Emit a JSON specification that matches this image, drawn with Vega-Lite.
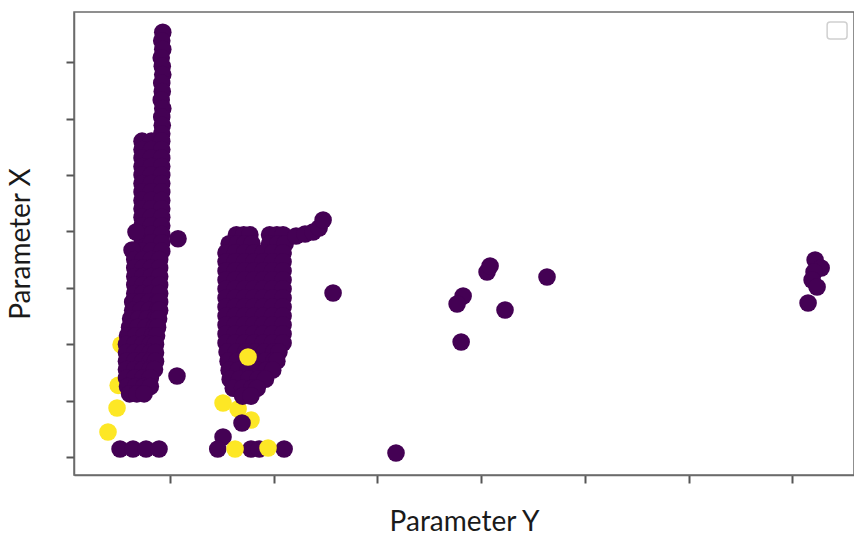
{
  "$schema": "https://vega.github.io/schema/vega-lite/v6.json",
  "width": 780,
  "height": 463,
  "autosize": {"type": "none"},
  "padding": {"left": 74, "top": 12, "right": 0, "bottom": 72},
  "background": "white",
  "config": {
    "view": {"stroke": "#6b6b6b", "strokeWidth": 1.5},
    "axis": {
      "labels": false,
      "grid": false,
      "tickSize": 8,
      "tickWidth": 2,
      "tickColor": "#555555",
      "domainColor": "#6b6b6b",
      "domainWidth": 1.5,
      "titleFont": "Lato",
      "titleFontSize": 28,
      "titleFontWeight": "normal",
      "titleColor": "#1a1a1a"
    }
  },
  "layer": [
    {
      "data": {
        "values": [
          {"u":0.528,"v":1.99,"k":1},{"u":0.50,"v":1.27,"k":1},{"u":1.511,"v":0.957,"k":1},{"u":1.656,"v":0.851,"k":1},{"u":1.781,"v":0.656,"k":1},

          {"u":0.93,"v":7.53,"k":0},{"u":0.92,"v":7.38,"k":0},{"u":0.93,"v":7.23,"k":0},{"u":0.915,"v":7.08,"k":0},{"u":0.925,"v":6.93,"k":0},{"u":0.93,"v":6.78,"k":0},{"u":0.92,"v":6.63,"k":0},{"u":0.925,"v":6.48,"k":0},{"u":0.915,"v":6.33,"k":0},{"u":0.93,"v":6.18,"k":0},{"u":0.92,"v":6.03,"k":0},{"u":0.925,"v":5.88,"k":0},{"u":0.92,"v":5.73,"k":0},

          {"u":0.73,"v":5.60,"k":0},{"u":0.82,"v":5.60,"k":0},{"u":0.92,"v":5.60,"k":0},
          {"u":0.73,"v":5.45,"k":0},{"u":0.82,"v":5.45,"k":0},{"u":0.92,"v":5.45,"k":0},
          {"u":0.73,"v":5.30,"k":0},{"u":0.82,"v":5.30,"k":0},{"u":0.92,"v":5.30,"k":0},
          {"u":0.73,"v":5.15,"k":0},{"u":0.82,"v":5.15,"k":0},{"u":0.92,"v":5.15,"k":0},
          {"u":0.73,"v":5.00,"k":0},{"u":0.82,"v":5.00,"k":0},{"u":0.92,"v":5.00,"k":0},
          {"u":0.73,"v":4.85,"k":0},{"u":0.82,"v":4.85,"k":0},{"u":0.92,"v":4.85,"k":0},
          {"u":0.73,"v":4.70,"k":0},{"u":0.82,"v":4.70,"k":0},{"u":0.92,"v":4.70,"k":0},
          {"u":0.73,"v":4.55,"k":0},{"u":0.82,"v":4.55,"k":0},{"u":0.92,"v":4.55,"k":0},
          {"u":0.73,"v":4.40,"k":0},{"u":0.82,"v":4.40,"k":0},{"u":0.92,"v":4.40,"k":0},
          {"u":0.73,"v":4.25,"k":0},{"u":0.82,"v":4.25,"k":0},{"u":0.92,"v":4.25,"k":0},
          {"u":0.73,"v":4.10,"k":0},{"u":0.82,"v":4.10,"k":0},{"u":0.92,"v":4.10,"k":0},
          {"u":0.73,"v":3.95,"k":0},{"u":0.82,"v":3.95,"k":0},{"u":0.92,"v":3.95,"k":0},
          {"u":0.73,"v":3.80,"k":0},{"u":0.82,"v":3.80,"k":0},{"u":0.92,"v":3.80,"k":0},
          {"u":0.73,"v":3.65,"k":0},{"u":0.82,"v":3.65,"k":0},{"u":0.92,"v":3.65,"k":0},
          {"u":0.672,"v":3.99,"k":0},{"u":0.634,"v":3.67,"k":0},{"u":1.077,"v":3.87,"k":0},

          {"u":0.66,"v":3.50,"k":0},{"u":0.74,"v":3.50,"k":0},{"u":0.82,"v":3.50,"k":0},{"u":0.90,"v":3.50,"k":0},
          {"u":0.66,"v":3.35,"k":0},{"u":0.74,"v":3.35,"k":0},{"u":0.82,"v":3.35,"k":0},{"u":0.90,"v":3.35,"k":0},
          {"u":0.66,"v":3.20,"k":0},{"u":0.74,"v":3.20,"k":0},{"u":0.82,"v":3.20,"k":0},{"u":0.90,"v":3.20,"k":0},
          {"u":0.66,"v":3.05,"k":0},{"u":0.74,"v":3.05,"k":0},{"u":0.82,"v":3.05,"k":0},{"u":0.90,"v":3.05,"k":0},
          {"u":0.66,"v":2.90,"k":0},{"u":0.74,"v":2.90,"k":0},{"u":0.82,"v":2.90,"k":0},{"u":0.90,"v":2.90,"k":0},
          {"u":0.64,"v":2.75,"k":0},{"u":0.72,"v":2.75,"k":0},{"u":0.80,"v":2.75,"k":0},{"u":0.88,"v":2.75,"k":0},{"u":0.90,"v":2.75,"k":0},
          {"u":0.64,"v":2.60,"k":0},{"u":0.72,"v":2.60,"k":0},{"u":0.80,"v":2.60,"k":0},{"u":0.88,"v":2.60,"k":0},{"u":0.90,"v":2.60,"k":0},
          {"u":0.62,"v":2.45,"k":0},{"u":0.70,"v":2.45,"k":0},{"u":0.78,"v":2.45,"k":0},{"u":0.86,"v":2.45,"k":0},{"u":0.89,"v":2.45,"k":0},
          {"u":0.61,"v":2.30,"k":0},{"u":0.69,"v":2.30,"k":0},{"u":0.77,"v":2.30,"k":0},{"u":0.85,"v":2.30,"k":0},{"u":0.88,"v":2.30,"k":0},
          {"u":0.59,"v":2.15,"k":0},{"u":0.67,"v":2.15,"k":0},{"u":0.75,"v":2.15,"k":0},{"u":0.83,"v":2.15,"k":0},{"u":0.87,"v":2.15,"k":0},
          {"u":0.58,"v":2.00,"k":0},{"u":0.66,"v":2.00,"k":0},{"u":0.74,"v":2.00,"k":0},{"u":0.81,"v":2.00,"k":0},{"u":0.86,"v":2.00,"k":0},
          {"u":0.58,"v":1.85,"k":0},{"u":0.66,"v":1.85,"k":0},{"u":0.74,"v":1.85,"k":0},{"u":0.81,"v":1.85,"k":0},{"u":0.86,"v":1.85,"k":0},
          {"u":0.58,"v":1.70,"k":0},{"u":0.66,"v":1.70,"k":0},{"u":0.74,"v":1.70,"k":0},{"u":0.81,"v":1.70,"k":0},{"u":0.86,"v":1.70,"k":0},
          {"u":0.58,"v":1.55,"k":0},{"u":0.66,"v":1.55,"k":0},{"u":0.74,"v":1.55,"k":0},{"u":0.81,"v":1.55,"k":0},{"u":0.85,"v":1.55,"k":0},
          {"u":0.58,"v":1.40,"k":0},{"u":0.66,"v":1.40,"k":0},{"u":0.74,"v":1.40,"k":0},{"u":0.81,"v":1.40,"k":0},
          {"u":0.59,"v":1.25,"k":0},{"u":0.67,"v":1.25,"k":0},{"u":0.75,"v":1.25,"k":0},{"u":0.81,"v":1.25,"k":0},
          {"u":0.61,"v":1.12,"k":0},{"u":0.68,"v":1.12,"k":0},{"u":0.75,"v":1.12,"k":0},
          {"u":0.518,"v":0.142,"k":0},{"u":0.643,"v":0.142,"k":0},{"u":0.769,"v":0.142,"k":0},{"u":0.894,"v":0.142,"k":0},
          {"u":1.067,"v":1.436,"k":0},

          {"u":1.64,"v":3.94,"k":0},{"u":1.71,"v":3.94,"k":0},{"u":1.77,"v":3.94,"k":0},{"u":1.96,"v":3.94,"k":0},{"u":2.03,"v":3.94,"k":0},{"u":2.09,"v":3.94,"k":0},
          {"u":1.57,"v":3.78,"k":0},{"u":1.65,"v":3.78,"k":0},{"u":1.72,"v":3.78,"k":0},{"u":1.79,"v":3.78,"k":0},{"u":1.96,"v":3.78,"k":0},{"u":2.04,"v":3.78,"k":0},{"u":2.11,"v":3.78,"k":0},
          {"u":1.54,"v":3.62,"k":0},{"u":1.63,"v":3.62,"k":0},{"u":1.72,"v":3.62,"k":0},{"u":1.81,"v":3.62,"k":0},{"u":1.90,"v":3.62,"k":0},{"u":1.99,"v":3.62,"k":0},{"u":2.09,"v":3.62,"k":0},
          {"u":1.54,"v":3.46,"k":0},{"u":1.63,"v":3.46,"k":0},{"u":1.72,"v":3.46,"k":0},{"u":1.81,"v":3.46,"k":0},{"u":1.90,"v":3.46,"k":0},{"u":1.99,"v":3.46,"k":0},{"u":2.09,"v":3.46,"k":0},
          {"u":1.54,"v":3.30,"k":0},{"u":1.63,"v":3.30,"k":0},{"u":1.72,"v":3.30,"k":0},{"u":1.81,"v":3.30,"k":0},{"u":1.90,"v":3.30,"k":0},{"u":1.99,"v":3.30,"k":0},{"u":2.09,"v":3.30,"k":0},
          {"u":1.54,"v":3.14,"k":0},{"u":1.63,"v":3.14,"k":0},{"u":1.72,"v":3.14,"k":0},{"u":1.81,"v":3.14,"k":0},{"u":1.90,"v":3.14,"k":0},{"u":1.99,"v":3.14,"k":0},{"u":2.09,"v":3.14,"k":0},
          {"u":1.54,"v":2.98,"k":0},{"u":1.63,"v":2.98,"k":0},{"u":1.72,"v":2.98,"k":0},{"u":1.81,"v":2.98,"k":0},{"u":1.90,"v":2.98,"k":0},{"u":1.99,"v":2.98,"k":0},{"u":2.09,"v":2.98,"k":0},
          {"u":1.54,"v":2.82,"k":0},{"u":1.63,"v":2.82,"k":0},{"u":1.72,"v":2.82,"k":0},{"u":1.81,"v":2.82,"k":0},{"u":1.90,"v":2.82,"k":0},{"u":1.99,"v":2.82,"k":0},{"u":2.09,"v":2.82,"k":0},
          {"u":1.54,"v":2.66,"k":0},{"u":1.63,"v":2.66,"k":0},{"u":1.72,"v":2.66,"k":0},{"u":1.81,"v":2.66,"k":0},{"u":1.90,"v":2.66,"k":0},{"u":1.99,"v":2.66,"k":0},{"u":2.09,"v":2.66,"k":0},
          {"u":1.54,"v":2.50,"k":0},{"u":1.63,"v":2.50,"k":0},{"u":1.72,"v":2.50,"k":0},{"u":1.81,"v":2.50,"k":0},{"u":1.90,"v":2.50,"k":0},{"u":1.99,"v":2.50,"k":0},{"u":2.09,"v":2.50,"k":0},
          {"u":1.54,"v":2.34,"k":0},{"u":1.63,"v":2.34,"k":0},{"u":1.72,"v":2.34,"k":0},{"u":1.81,"v":2.34,"k":0},{"u":1.90,"v":2.34,"k":0},{"u":1.99,"v":2.34,"k":0},{"u":2.09,"v":2.34,"k":0},
          {"u":1.54,"v":2.18,"k":0},{"u":1.63,"v":2.18,"k":0},{"u":1.72,"v":2.18,"k":0},{"u":1.81,"v":2.18,"k":0},{"u":1.90,"v":2.18,"k":0},{"u":1.99,"v":2.18,"k":0},{"u":2.09,"v":2.18,"k":0},
          {"u":1.54,"v":2.02,"k":0},{"u":1.63,"v":2.02,"k":0},{"u":1.72,"v":2.02,"k":0},{"u":1.81,"v":2.02,"k":0},{"u":1.90,"v":2.02,"k":0},{"u":1.99,"v":2.02,"k":0},{"u":2.09,"v":2.02,"k":0},
          {"u":1.55,"v":1.86,"k":0},{"u":1.64,"v":1.86,"k":0},{"u":1.73,"v":1.86,"k":0},{"u":1.82,"v":1.86,"k":0},{"u":1.91,"v":1.86,"k":0},{"u":2.00,"v":1.86,"k":0},{"u":2.05,"v":1.86,"k":0},
          {"u":1.56,"v":1.70,"k":0},{"u":1.65,"v":1.70,"k":0},{"u":1.74,"v":1.70,"k":0},{"u":1.83,"v":1.70,"k":0},{"u":1.92,"v":1.70,"k":0},{"u":2.00,"v":1.70,"k":0},{"u":2.03,"v":1.70,"k":0},
          {"u":1.57,"v":1.54,"k":0},{"u":1.66,"v":1.54,"k":0},{"u":1.75,"v":1.54,"k":0},{"u":1.84,"v":1.54,"k":0},{"u":1.93,"v":1.54,"k":0},{"u":1.99,"v":1.54,"k":0},
          {"u":1.58,"v":1.38,"k":0},{"u":1.67,"v":1.38,"k":0},{"u":1.76,"v":1.38,"k":0},{"u":1.85,"v":1.38,"k":0},{"u":1.92,"v":1.38,"k":0},
          {"u":1.61,"v":1.22,"k":0},{"u":1.70,"v":1.22,"k":0},{"u":1.79,"v":1.22,"k":0},{"u":1.84,"v":1.22,"k":0},
          {"u":1.70,"v":1.08,"k":0},{"u":1.78,"v":1.08,"k":0},
          {"u":1.511,"v":0.355,"k":0},{"u":1.694,"v":0.603,"k":0},
          {"u":1.46,"v":0.142,"k":0},{"u":1.78,"v":0.142,"k":0},{"u":1.86,"v":0.142,"k":0},{"u":2.10,"v":0.142,"k":0},

          {"u":2.215,"v":3.918,"k":0},{"u":2.302,"v":3.954,"k":0},{"u":2.379,"v":3.989,"k":0},{"u":2.437,"v":4.060,"k":0},{"u":2.476,"v":4.202,"k":0},
          {"u":2.572,"v":2.908,"k":0},{"u":3.179,"v":0.071,"k":0},
          {"u":3.826,"v":2.855,"k":0},{"u":3.768,"v":2.713,"k":0},{"u":3.807,"v":2.039,"k":0},{"u":4.057,"v":3.280,"k":0},{"u":4.086,"v":3.387,"k":0},{"u":4.230,"v":2.606,"k":0},{"u":4.635,"v":3.191,"k":0},
          {"u":7.220,"v":3.493,"k":0},{"u":7.278,"v":3.351,"k":0},{"u":7.210,"v":3.280,"k":0},{"u":7.191,"v":3.138,"k":0},{"u":7.239,"v":3.014,"k":0},{"u":7.152,"v":2.730,"k":0},

          {"u":0.489,"v":0.869,"k":1},{"u":0.402,"v":0.443,"k":1},{"u":1.752,"v":1.773,"k":1},{"u":1.627,"v":0.142,"k":1},{"u":1.945,"v":0.16,"k":1}
        ]
      },
      "mark": {"type": "point", "filled": true, "size": 310, "opacity": 1, "strokeWidth": 0},
      "encoding": {
        "x": {
          "field": "u", "type": "quantitative",
          "scale": {"domain": [0.074, 7.595], "nice": false, "zero": false},
          "axis": {"values": [1, 2, 3, 4, 5, 6, 7], "title": "Parameter Y", "titlePadding": 24}
        },
        "y": {
          "field": "v", "type": "quantitative",
          "scale": {"domain": [-0.319, 7.89], "nice": false, "zero": false},
          "axis": {"values": [0, 1, 2, 3, 4, 5, 6, 7], "title": "Parameter X", "titlePadding": 30}
        },
        "color": {
          "field": "k", "type": "nominal",
          "scale": {"domain": [0, 1], "range": ["#440154", "#fde725"]},
          "legend": null
        }
      }
    },
    {
      "data": {"values": [{"x1": 7.336, "x2": 7.528, "y1": 7.411, "y2": 7.713}]},
      "mark": {"type": "rect", "fill": "white", "stroke": "#d0d0d0", "strokeWidth": 1.5, "cornerRadius": 3},
      "encoding": {
        "x": {"field": "x1", "type": "quantitative"},
        "x2": {"field": "x2"},
        "y": {"field": "y1", "type": "quantitative"},
        "y2": {"field": "y2"}
      }
    }
  ]
}
